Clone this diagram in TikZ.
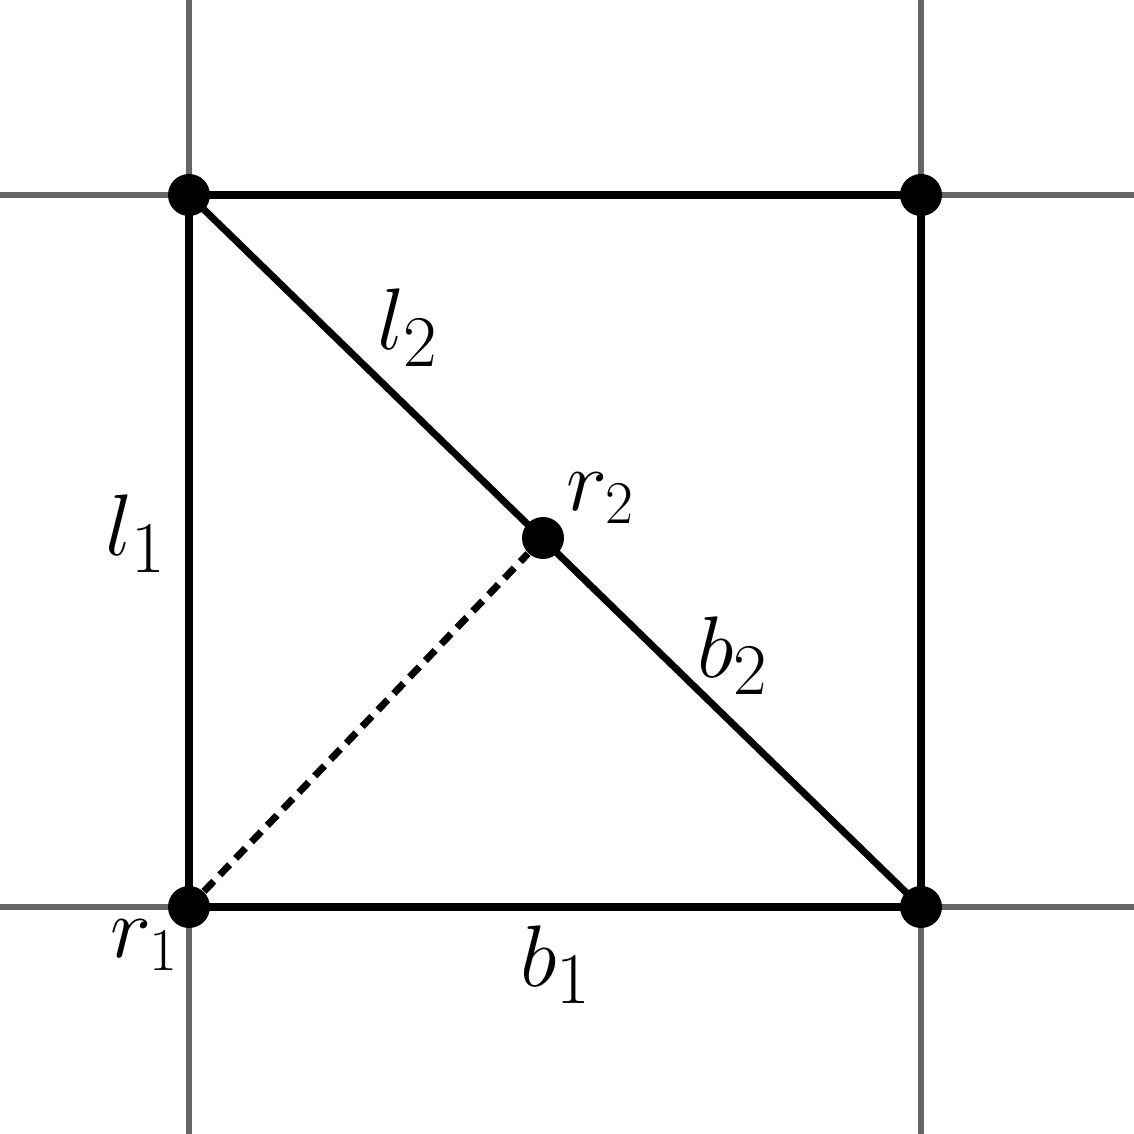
\documentclass[tikz,border=0pt]{standalone}
\usepackage{tikz}
\usetikzlibrary{positioning}

\tikzset{
    gridline/.style={line width=1.7pt, color=black!60},
    edge/.style={line width=2pt},
    dot/.style={circle, fill=black, inner sep=0pt, minimum size=0.42cm},
    lbl/.style={font=\fontsize{28}{34}\selectfont},
    ptlbl/.style={font=\fontsize{23}{28}\selectfont}
}

\begin{document}
\begin{tikzpicture}
        \useasboundingbox (0,0) rectangle (11.34,11.34);
        % grid
        \draw[gridline] (1.89,0) -- (1.89,11.34);
        \draw[gridline] (9.21,0) -- (9.21,11.34);
        \draw[gridline] (0,2.27) -- (11.34,2.27);
        \draw[gridline] (0,9.39) -- (11.34,9.39);

        \node[dot] (r1) at (1.89,2.27) {};
        \node[dot] (br) at (9.21,2.27) {};
        \node[dot] (tl) at (1.89,9.39) {};
        \node[dot] (tr) at (9.21,9.39) {};
        \node[dot] (r2) at (5.43,5.96) {};

        \draw[edge] (r1.center) -- (br.center) -- (tr.center) -- (tl.center) -- cycle;
        \draw[edge] (tl.center) -- (br.center);
        \draw[edge, dash pattern=on 4pt off 2.5pt] (r1) -- (r2);

        \node[lbl] (l1) at (1.36,6.00) {$l_1$};
        \node[lbl] (l2) at (4.08,8.06) {$l_2$};
        \node[lbl] (b1) at (5.56,1.69) {$b_1$};
        \node[lbl] (b2) at (7.33,4.78) {$b_2$};
        \node[ptlbl] (r1lbl) at (1.45,1.89) {$r_1$};
        \node[ptlbl] (r2lbl) at (6.01,6.36) {$r_2$};
    \end{tikzpicture}
\end{document}
